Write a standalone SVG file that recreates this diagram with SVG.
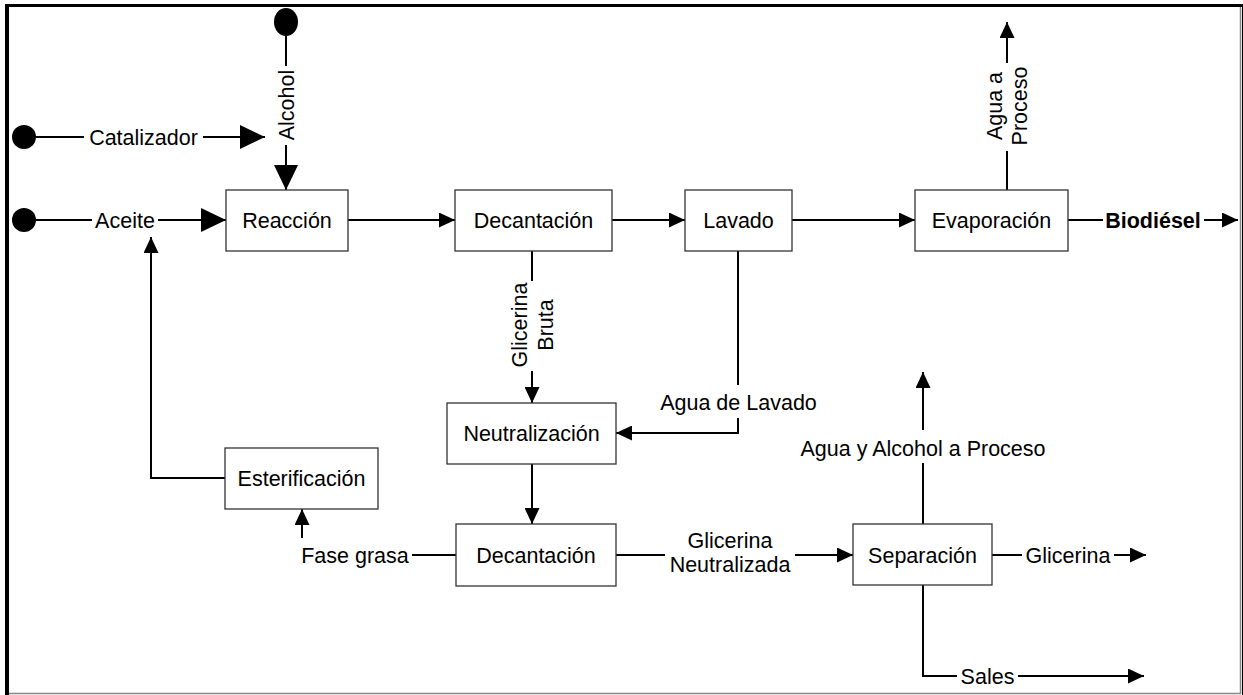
<svg xmlns="http://www.w3.org/2000/svg" width="1243" height="695" viewBox="0 0 1243 695">
  <style>
    text { font-family: "Liberation Sans", Arial, sans-serif; font-size: 21.5px; fill: #000; }
    .c { text-anchor: middle; }
    .b { font-weight: bold; }
    .box { fill: #fff; stroke: #333; stroke-width: 1.3; }
    .ln { fill: none; stroke: #000; stroke-width: 2; }
    .big { marker-end: url(#bigArrow); }
    .sm { marker-end: url(#smallArrow); }
  </style>
  <defs>
    <marker id="bigArrow" viewBox="0 0 25 24" refX="25" refY="12" markerWidth="25" markerHeight="24" markerUnits="userSpaceOnUse" orient="auto">
      <path d="M0,0 L25,12 L0,24 Z" fill="#000"/>
    </marker>
    <marker id="smallArrow" viewBox="0 0 16 15" refX="16" refY="7.5" markerWidth="16" markerHeight="15" markerUnits="userSpaceOnUse" orient="auto">
      <path d="M0,0 L16,7.5 L0,15 Z" fill="#000"/>
    </marker>
  </defs>

  <!-- page frame -->
  <rect x="0" y="0" width="1243" height="695" fill="#fff"/>
  <g id="frame">
    <line x1="5" y1="5.5" x2="1243" y2="5.5" stroke="#000" stroke-width="3"/>
    <line x1="7" y1="4" x2="7" y2="695" stroke="#000" stroke-width="4"/>
    <line x1="1240.5" y1="7" x2="1240.5" y2="694" stroke="#888" stroke-width="1.5"/>
    <line x1="1242.5" y1="4" x2="1242.5" y2="695" stroke="#000" stroke-width="1"/>
    <line x1="9" y1="693.5" x2="1241" y2="693.5" stroke="#888" stroke-width="1.5"/>
  </g>

  <!-- feed sources -->
  <g id="src-alcohol"><ellipse cx="286" cy="22" rx="12" ry="14" fill="#000"/></g>
  <g id="src-catalizador"><circle cx="24" cy="137" r="12" fill="#000"/></g>
  <g id="src-aceite"><circle cx="24" cy="220" r="12" fill="#000"/></g>

  <!-- flow lines and stream labels -->
  <g id="connectors">
    <!-- Catalizador -->
    <line class="ln" x1="36" y1="137" x2="84" y2="137"/>
    <text class="c" x="143.5" y="144.5">Catalizador</text>
    <line class="ln big" x1="203" y1="137" x2="265" y2="137"/>
    <!-- Alcohol -->
    <line class="ln" x1="286" y1="36" x2="286" y2="66"/>
    <text class="c" transform="translate(286,105) rotate(-90)" dy="7.5">Alcohol</text>
    <line class="ln big" x1="286" y1="145" x2="286" y2="190"/>
    <!-- Aceite -->
    <line class="ln" x1="36" y1="220" x2="92" y2="220"/>
    <text class="c" x="125" y="227.5">Aceite</text>
    <line class="ln big" x1="158" y1="220" x2="226" y2="220"/>
    <!-- recycle from Esterificación -->
    <polyline class="ln sm" points="225,478 151,478 151,237"/>
    <!-- main line -->
    <line class="ln sm" x1="348" y1="220" x2="455" y2="220"/>
    <line class="ln sm" x1="612" y1="220" x2="685" y2="220"/>
    <line class="ln sm" x1="792" y1="220" x2="915" y2="220"/>
    <!-- Biodiésel -->
    <line class="ln" x1="1068" y1="220" x2="1103" y2="220"/>
    <text class="c b" x="1153" y="227.5">Biodiésel</text>
    <line class="ln sm" x1="1204" y1="220" x2="1238" y2="220"/>
    <!-- Agua a Proceso -->
    <line class="ln" x1="1007" y1="190" x2="1007" y2="151"/>
    <text class="c" transform="translate(1007,106) rotate(-90)"><tspan x="0" dy="-5">Agua a</tspan><tspan x="0" dy="25">Proceso</tspan></text>
    <line class="ln sm" x1="1007" y1="63" x2="1007" y2="22"/>
    <!-- Glicerina Bruta -->
    <line class="ln" x1="532" y1="251" x2="532" y2="281"/>
    <text class="c" transform="translate(532,325) rotate(-90)"><tspan x="0" dy="-5">Glicerina</tspan><tspan x="0" dy="26">Bruta</tspan></text>
    <line class="ln sm" x1="532" y1="371" x2="532" y2="403"/>
    <!-- Agua de Lavado -->
    <line class="ln" x1="738" y1="251" x2="738" y2="385"/>
    <text class="c" x="738.5" y="409.5">Agua de Lavado</text>
    <polyline class="ln sm" points="738,418 738,433 616,433"/>
    <!-- Neutralización to Decantación -->
    <line class="ln sm" x1="532" y1="464" x2="532" y2="524"/>
    <!-- Fase grasa -->
    <line class="ln" x1="456" y1="555" x2="412" y2="555"/>
    <text class="c" x="355" y="562.5">Fase grasa</text>
    <line class="ln sm" x1="302" y1="538" x2="302" y2="509"/>
    <!-- Glicerina Neutralizada -->
    <line class="ln" x1="616" y1="555" x2="665" y2="555"/>
    <text class="c" x="730" y="548">Glicerina</text>
    <text class="c" x="730" y="572">Neutralizada</text>
    <line class="ln sm" x1="795" y1="555" x2="853" y2="555"/>
    <!-- Agua y Alcohol a Proceso -->
    <line class="ln" x1="923" y1="524" x2="923" y2="463"/>
    <text class="c" x="923" y="455.5">Agua y Alcohol a Proceso</text>
    <line class="ln sm" x1="923" y1="430" x2="923" y2="372"/>
    <!-- Glicerina -->
    <line class="ln" x1="992" y1="555" x2="1022" y2="555"/>
    <text class="c" x="1068" y="562.5">Glicerina</text>
    <line class="ln sm" x1="1114" y1="555" x2="1146" y2="555"/>
    <!-- Sales -->
    <polyline class="ln" points="923,585 923,676 957,676"/>
    <text class="c" x="987.5" y="683.5">Sales</text>
    <line class="ln sm" x1="1018" y1="676" x2="1144" y2="676"/>
  </g>

  <!-- process units -->
  <g id="reaccion"><rect class="box" x="226" y="190" width="122" height="61"/><text class="c" x="287" y="228">Reacción</text></g>
  <g id="decantacion-1"><rect class="box" x="455" y="190" width="157" height="61"/><text class="c" x="533.5" y="228">Decantación</text></g>
  <g id="lavado"><rect class="box" x="685" y="190" width="107" height="61"/><text class="c" x="738.5" y="228">Lavado</text></g>
  <g id="evaporacion"><rect class="box" x="915" y="190" width="153" height="61"/><text class="c" x="991.5" y="228">Evaporación</text></g>
  <g id="neutralizacion"><rect class="box" x="447" y="403" width="169" height="61"/><text class="c" x="531.5" y="441">Neutralización</text></g>
  <g id="esterificacion"><rect class="box" x="225" y="448" width="153" height="61"/><text class="c" x="301.5" y="486">Esterificación</text></g>
  <g id="decantacion-2"><rect class="box" x="456" y="524" width="160" height="62"/><text class="c" x="536" y="562.5">Decantación</text></g>
  <g id="separacion"><rect class="box" x="853" y="524" width="139" height="61"/><text class="c" x="922.5" y="562.5">Separación</text></g>
</svg>
